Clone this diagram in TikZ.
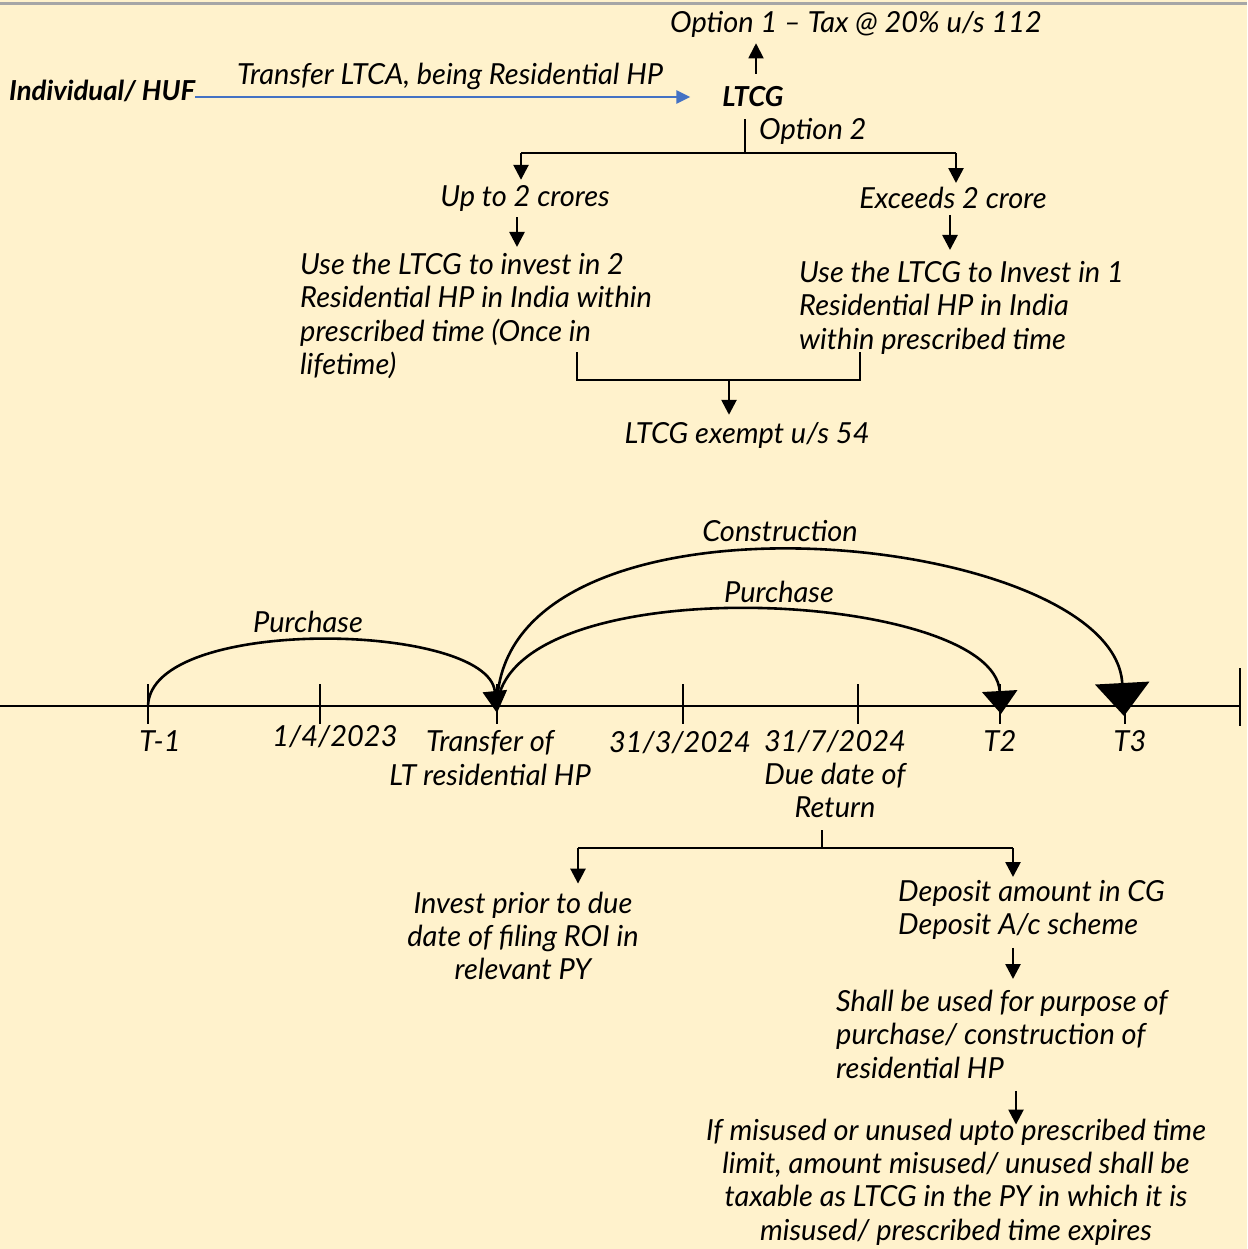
\documentclass[tikz,border=0pt]{standalone}
\usepackage{fontspec}
\setmainfont{Lato}
\usetikzlibrary{arrows.meta, positioning, calc}

\definecolor{paper}{HTML}{FFF2CC}
\definecolor{flowblue}{HTML}{4472C4}
\definecolor{rulegray}{HTML}{A6A6A6}

\tikzset{
  txt/.style   = {font=\fontsize{29}{33.4}\selectfont\itshape, inner sep=0pt},
  ltxt/.style  = {txt, align=left},
  ctxt/.style  = {txt, align=center},
  bold/.style  = {font=\fontsize{27.5}{33}\selectfont\itshape\bfseries, inner sep=0pt},
  bar/.style   = {line width=2.6pt},
  link/.style  = {bar, -{Triangle[width=15pt,length=15pt]}},
  tick/.style  = {bar},
}

\begin{document}
\begin{tikzpicture}[x=1pt, y=-1pt]
  \fill[paper] (0,0) rectangle (1247,1249);
  \useasboundingbox (0,0) rectangle (1247,1249);
  \draw[rulegray, line width=3pt] (0,4) -- (1247,4);

  % --- who transfers what
  \node[bold, anchor=west] (huf) at (9,91) {Individual/ HUF};
  \node[bold] (ltcg) at (753,97) {LTCG};
  \node[txt] (transfer) at (450,76) {Transfer LTCA, being Residential HP};
  \draw[flowblue, line width=2.6pt, -{Triangle[width=13pt,length=14pt]}, shorten >=32pt]
    (huf.east |- ltcg.west) -- (ltcg.west);

  % --- option 1
  \node[txt] (opt1) at (856,24) {Option 1 -- Tax @ 20\% u/s 112};
  \draw[link, line width=1.8pt, shorten <=13pt, shorten >=6pt] ([xshift=3pt]ltcg.north) -- ([xshift=3pt]ltcg.north |- opt1.south);

  % --- option 2 fork
  \coordinate (fork1) at (745,153);
  \coordinate (colA) at (521,153);
  \coordinate (colB) at (956,153);
  \node[txt, anchor=west] (opt2) at (759,131) {Option 2};
  \node[txt] (upto) at (525,198) {Up to 2 crores};
  \node[txt] (exceeds) at (953,198) {Exceeds 2 crore};
  \draw[bar, shorten <=12pt] (ltcg.south -| fork1) -- (fork1);
  \draw[bar] (colA) -- (colB);
  \draw[link, shorten >=5pt] (colA) -- (colA |- upto.north);
  \draw[link, shorten >=4pt] (colB) -- (colB |- exceeds.north);

  \node[ltxt, anchor=north west] (usetwo) at (300,253)
    {Use the LTCG to invest in 2\\Residential HP in India within\\prescribed time (Once in\\lifetime)};
  \node[ltxt, anchor=north west] (useone) at (799,261)
    {Use the LTCG to Invest in 1\\Residential HP in India\\within prescribed time};
  \draw[link, shorten <=6pt, shorten >=6pt] ([xshift=-8pt]upto.south) -- ([xshift=-8pt]upto.south |- usetwo.north);
  \draw[link, shorten <=6pt, shorten >=11pt] ([xshift=-3pt]exceeds.south) -- ([xshift=-3pt]exceeds.south |- useone.north);

  % --- both routes end in exemption
  \coordinate (joinL) at (577,352);
  \coordinate (joinR) at (860,352);
  \coordinate (join) at (729,380);
  \node[txt] (exempt) at (747,435) {LTCG exempt u/s 54};
  \draw[bar] (joinL) |- (join) -| (joinR);
  \draw[link, shorten >=7pt] (join) -- (join |- exempt.north);

  % --- time line
  \coordinate (axisL) at (0,706);
  \coordinate (axisR) at (1240,706);
  \draw[bar] (axisL) -- (axisR);
  \draw[tick] ([yshift=38pt]axisR) -- ([yshift=-20pt]axisR);
  \foreach \name/\x in {tm1/148, apr/320, tr/497, mar/683, jul/858, t2/1000, t3/1125}{
    \coordinate (\name) at (\x,706);
    \draw[tick] ([yshift=22pt]\name) -- ([yshift=-18pt]\name);
  }

  \node[txt] (lbltm1) at (160,741) {T-1};
  \node[txt] (lblapr) at (335,737) {1/4/2023};
  \node[ctxt] (lbltr) at (490,758) {Transfer of\\LT residential HP};
  \node[txt] (lblmar) at (680,743) {31/3/2024};
  \node[ctxt] (lbljul) at (835,774) {31/7/2024\\Due date of\\Return};
  \node[txt] (lblt2) at (1000,741) {T2};
  \node[txt] (lblt3) at (1130,741) {T3};

  % --- purchase / construction windows
  \coordinate (trTip) at (497,713);
  \coordinate (t2Tip) at (1001,714);
  \coordinate (t3Tip) at (1124,716);
  \draw[bar, -{Triangle[width=24pt,length=22pt]}]
    (tm1) .. controls (150,615) and (488,622) .. (trTip);
  \draw[bar, -{Triangle[width=35pt,length=23pt]}]
    (tr) .. controls (510,565) and (994,590) .. (t2Tip);
  \draw[bar, -{Triangle[width=54pt,length=33pt]}]
    (tr) .. controls (500,470) and (1114,530) .. (t3Tip);
  \node[txt] (buybefore) at (308,622) {Purchase};
  \node[txt] (buyafter) at (779,592) {Purchase};
  \node[txt] (build) at (780,531) {Construction};

  % --- till the due date of return
  \coordinate (fork2) at (822,848);
  \coordinate (colC) at (578,848);
  \coordinate (colD) at (1013,848);
  \coordinate (colE) at (1016,848);
  \node[ctxt] (invest) at (523,936) {Invest prior to due\\date of filing ROI in\\relevant PY};
  \node[ltxt, anchor=north west] (deposit) at (898,880) {Deposit amount in CG\\Deposit A/c scheme};
  \node[ltxt, anchor=north west] (shall) at (836,990) {Shall be used for purpose of\\purchase/ construction of\\residential HP};
  \node[ctxt] (misuse) at (956,1182) {If misused or unused upto prescribed time\\limit, amount misused/ unused shall be\\taxable as LTCG in the PY in which it is\\misused/ prescribed time expires};
  \draw[bar, shorten <=12pt] (lbljul.south -| fork2) -- (fork2);
  \draw[bar] (colC) -- (colD);
  \draw[link, shorten >=8pt] (colC) -- (colC |- invest.north);
  \draw[link, shorten >=3pt] (colD) -- (colD |- deposit.north);
  \draw[link, shorten <=8pt, shorten >=11pt] (colD |- deposit.south) -- (colD |- shall.north);
  \draw[link, shorten <=12pt, shorten >=-6pt] (colE |- shall.south) -- (colE |- misuse.north);
\end{tikzpicture}
\end{document}
